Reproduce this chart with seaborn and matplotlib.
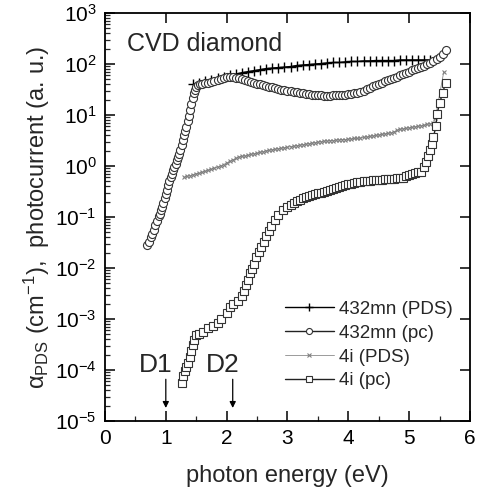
import matplotlib
matplotlib.use("Agg")
import matplotlib.pyplot as plt
import seaborn as sns
import numpy as np
from matplotlib.ticker import LogLocator, MultipleLocator, NullFormatter, LogFormatterSciNotation

# ---------------- data ----------------
pds432_x = [1.45, 1.55, 1.65, 1.75, 1.85, 1.95, 2.05, 2.15, 2.25, 2.35, 2.45, 2.55, 2.65, 2.75,
            2.85, 2.95, 3.05, 3.15, 3.25, 3.35, 3.45, 3.55, 3.65, 3.75, 3.85, 3.95, 4.05, 4.15,
            4.25, 4.35, 4.45, 4.55, 4.65, 4.75, 4.85, 4.95, 5.05, 5.15, 5.25, 5.35]
pds432_y = [39.8, 42.7, 45.7, 49.0, 52.5, 56.2, 60.3, 63.1, 67.6, 70.8, 74.1, 77.6, 81.3, 83.2,
            85.1, 87.1, 89.1, 93.3, 95.5, 97.7, 100, 102, 105, 107, 107, 110, 112, 112,
            115, 115, 117, 117, 117, 117, 120, 120, 120, 120, 120, 120]

pc432_x = [0.69, 0.72, 0.75, 0.78, 0.80, 0.83, 0.86, 0.88, 0.90, 0.92, 0.94, 0.96, 0.98, 1.00,
           1.02, 1.04, 1.06, 1.08, 1.10, 1.12, 1.14, 1.16, 1.18, 1.20, 1.22, 1.24, 1.26, 1.28,
           1.30, 1.32, 1.34, 1.36, 1.38, 1.40, 1.42, 1.44, 1.46, 1.48, 1.50, 1.53, 1.56, 1.60,
           1.65, 1.70, 1.75, 1.80, 1.85, 1.90, 1.95, 2.00, 2.05,
           2.10, 2.15, 2.20, 2.25, 2.30, 2.35, 2.40, 2.45, 2.50, 2.55, 2.60, 2.65, 2.70, 2.75,
           2.80, 2.85, 2.90, 2.95, 3.00, 3.05, 3.10, 3.15, 3.20, 3.25, 3.30, 3.35, 3.40, 3.45,
           3.50, 3.55, 3.60, 3.65, 3.70, 3.75, 3.80, 3.85, 3.90, 3.95, 4.00, 4.05, 4.10, 4.15,
           4.20, 4.25, 4.30, 4.35, 4.40, 4.45, 4.50, 4.55, 4.60, 4.65, 4.70, 4.75, 4.80, 4.85,
           4.90, 4.95, 5.00, 5.05, 5.10, 5.15, 5.20, 5.25, 5.30, 5.35, 5.40, 5.45, 5.50, 5.55, 5.60]
pc432_y = [0.028, 0.033, 0.040, 0.047, 0.056, 0.071, 0.085, 0.105, 0.117, 0.135, 0.158, 0.19, 0.234, 0.28,
           0.34, 0.42, 0.50, 0.60, 0.71, 0.83, 0.95, 1.12, 1.32, 1.51, 1.74, 2.09, 2.63, 3.31,
           3.98, 4.79, 5.89, 7.59, 9.55, 12.6, 16.6, 21.4, 26.9, 31.6, 35.5, 38.9, 39.8, 40.7,
           41.7, 42.7, 44.7, 46.8, 49.0, 51.3, 53.7, 55.0, 56.2,
           55.0, 53.7, 52.5, 50.1, 47.9, 46.8, 44.7, 42.7, 40.7, 39.8, 38.0, 37.2, 35.5, 34.7,
           33.1, 32.4, 31.6, 30.9, 30.2, 29.5, 28.8, 28.2, 27.5, 26.9, 26.3, 25.7, 25.1, 25.1,
           24.5, 24.5, 24.0, 24.0, 24.0, 24.5, 24.5, 25.1, 25.1, 25.1, 25.7, 26.3, 26.9, 27.5,
           28.8, 30.2, 32.4, 33.9, 36.3, 38.0, 40.7, 42.7, 45.7, 47.9, 51.3, 53.7, 56.2, 60.3,
           63.1, 67.6, 70.8, 75.9, 79.4, 85.1, 89.1, 93.3, 100, 105, 112, 123, 138, 158, 186]

pds4i_x = [1.30, 1.35, 1.40, 1.45, 1.50, 1.55, 1.60, 1.65, 1.70, 1.75, 1.80, 1.85, 1.90, 1.95,
           2.00, 2.05, 2.10, 2.15, 2.20, 2.25, 2.30, 2.35, 2.40, 2.45, 2.50, 2.55, 2.60, 2.65,
           2.70, 2.75, 2.80, 2.85, 2.90, 2.95, 3.00, 3.05, 3.10, 3.15, 3.20, 3.25, 3.30, 3.35,
           3.40, 3.45, 3.50, 3.55, 3.60, 3.65, 3.70, 3.75, 3.80, 3.85, 3.90, 3.95, 4.00, 4.05,
           4.10, 4.15, 4.20, 4.25, 4.30, 4.35, 4.40, 4.45, 4.50, 4.55, 4.60, 4.65, 4.70, 4.75,
           4.80, 4.85, 4.90, 4.95, 5.00, 5.05, 5.10, 5.15, 5.20, 5.25, 5.30, 5.35, 5.40, 5.43, 5.57]
pds4i_y = [0.60, 0.63, 0.65, 0.68, 0.71, 0.72, 0.76, 0.79, 0.83, 0.87, 0.91, 0.95, 1.00, 1.07,
           1.15, 1.23, 1.32, 1.41, 1.51, 1.55, 1.58, 1.62, 1.70, 1.74, 1.78, 1.86, 1.91, 2.00,
           2.04, 2.09, 2.14, 2.19, 2.24, 2.29, 2.34, 2.40, 2.45, 2.51, 2.57, 2.63, 2.69, 2.75,
           2.82, 2.88, 2.95, 3.02, 3.09, 3.09, 3.16, 3.16, 3.24, 3.24, 3.31, 3.31, 3.39, 3.39,
           3.47, 3.47, 3.55, 3.63, 3.72, 3.80, 3.89, 3.98, 4.07, 4.17, 4.27, 4.37, 4.47, 4.68,
           5.01, 5.25, 5.37, 5.50, 5.62, 5.75, 5.89, 6.03, 6.17, 6.31, 6.61, 6.76, 7.08, 8.7, 71]

pc4i_x = [1.26, 1.28, 1.31, 1.34, 1.37, 1.39, 1.42, 1.45, 1.46, 1.49, 1.55, 1.61, 1.69, 1.78,
          1.86, 1.91, 2.00, 2.05, 2.10, 2.19, 2.26, 2.28, 2.32, 2.35, 2.38, 2.42, 2.45, 2.49,
          2.53, 2.57, 2.61, 2.65, 2.69, 2.73, 2.79, 2.84, 2.92, 3.00, 3.05, 3.10, 3.15, 3.20,
          3.25, 3.30, 3.35, 3.40, 3.45, 3.50, 3.55, 3.60, 3.65, 3.70, 3.75, 3.80, 3.85, 3.90,
          3.95, 4.00, 4.05, 4.10, 4.15, 4.20, 4.25, 4.30, 4.35, 4.40, 4.45, 4.50, 4.55, 4.60,
          4.65, 4.70, 4.75, 4.80, 4.85, 4.90, 4.95, 5.00, 5.05, 5.10, 5.15, 5.19, 5.25, 5.28,
          5.31, 5.34, 5.37, 5.40, 5.44, 5.46, 5.50, 5.55, 5.60]
pc4i_y = [5.6e-5, 7.6e-5, 9.5e-5, 1.15e-4, 1.41e-4, 1.82e-4, 2.4e-4, 3.1e-4, 3.9e-4, 4.9e-4, 5.2e-4,
          5.6e-4, 6.6e-4, 7.2e-4, 8.3e-4, 1.02e-3, 1.29e-3, 1.74e-3, 2.0e-3, 2.3e-3, 2.8e-3, 3.5e-3,
          4.7e-3, 5.8e-3, 7.9e-3, 9.8e-3, 0.0123, 0.0162, 0.0209, 0.0263, 0.0331, 0.0427, 0.0537,
          0.0676, 0.087, 0.110, 0.138, 0.158, 0.174, 0.19, 0.204, 0.219, 0.234, 0.245, 0.257, 0.269,
          0.282, 0.295, 0.302, 0.316, 0.331, 0.339, 0.355, 0.372, 0.389, 0.407, 0.427, 0.437, 0.447,
          0.468, 0.479, 0.490, 0.501, 0.513, 0.513, 0.525, 0.525, 0.537, 0.537, 0.550, 0.550, 0.562,
          0.562, 0.575, 0.575, 0.589, 0.631, 0.676, 0.708, 0.741, 0.759, 0.776, 0.977, 1.20, 1.58,
          2.04, 2.69, 3.72, 6.03, 10.5, 17.0, 26.9, 42.7]

labels = ["432mn (PDS)", "432mn (pc)", "4i (PDS)", "4i (pc)"]
title_text = "CVD diamond"
x_label = "photon energy (eV)"
y_label = r"α$_{\mathrm{PDS}}$ (cm$^{\mathrm{-1}}$),  photocurrent (a. u.)"
markers_d = [("D1", 1.0), ("D2", 2.1)]

# ---------------- style ----------------
sns.set_style("ticks")
plt.rcParams["font.family"] = ["Liberation Sans", "DejaVu Sans"]
plt.rcParams["mathtext.fontset"] = "custom"
plt.rcParams["mathtext.rm"] = "Liberation Sans"
plt.rcParams["mathtext.it"] = "Liberation Sans:italic"
plt.rcParams["mathtext.sf"] = "Liberation Sans"

fig = plt.figure(figsize=(4.86, 4.99), dpi=100)
ax = fig.add_axes([0.216, 0.156, 0.751, 0.818])

series = [
    (pds432_x, pds432_y, dict(marker="+", markersize=7, markeredgewidth=1.0, color="black",
                              markeredgecolor="black", linewidth=1.0)),
    (pc432_x, pc432_y, dict(marker="o", markersize=5.8, markeredgewidth=0.8, color="#222222",
                            markerfacecolor="white", markeredgecolor="#333333", linewidth=1.0)),
    (pds4i_x, pds4i_y, dict(marker="x", markersize=3.5, markeredgewidth=0.8, color="#8a8a8a",
                            markeredgecolor="#808080", linewidth=0.6)),
    (pc4i_x, pc4i_y, dict(marker="s", markersize=5.5, markeredgewidth=0.8, color="#222222",
                          markerfacecolor="white", markeredgecolor="#333333", linewidth=1.0)),
]
for (xs, ys, kw), lab in zip(series, labels):
    sns.lineplot(x=xs, y=ys, ax=ax, sort=False, estimator=None, label=lab, **kw)

ax.set_yscale("log")
ax.set_xlim(0, 6)
ax.set_ylim(1e-5, 1e3)

# ticks
ax.xaxis.set_major_locator(MultipleLocator(1))
ax.xaxis.set_minor_locator(MultipleLocator(0.5))
ax.yaxis.set_major_locator(LogLocator(base=10, numticks=20))
ax.yaxis.set_minor_locator(LogLocator(base=10, subs=np.arange(2, 10), numticks=20))
ax.yaxis.set_minor_formatter(NullFormatter())
ax.yaxis.set_major_formatter(LogFormatterSciNotation())
ax.tick_params(axis="both", which="major", direction="in", length=7, width=1.1,
               labelsize=15, pad=6, colors="black")
ax.tick_params(axis="both", which="minor", direction="in", length=3.5, width=0.9)
ax.tick_params(axis="x", which="both", top=True)
ax.tick_params(axis="x", which="minor", top=False)
ax.tick_params(axis="y", which="major", right=True)
ax.tick_params(axis="y", which="minor", right=False)
for s in ax.spines.values():
    s.set_linewidth(1.3)
    s.set_color("black")

ax.set_xlabel(x_label, fontsize=17, labelpad=12)
ax.set_ylabel(y_label, fontsize=17, labelpad=2)

ax.text(0.36, 180, title_text, fontsize=18, ha="left", va="baseline")

for lab, xv in markers_d:
    ax.annotate("", xy=(xv, 1.6e-5), xytext=(xv, 7.5e-5),
                arrowprops=dict(arrowstyle="-|>", color="black", lw=0.9, mutation_scale=9))
    ax.text(xv - 0.17, 9.0e-5, lab, fontsize=19, ha="center", va="baseline")

leg = ax.legend(loc="lower right", bbox_to_anchor=(0.985, 0.05), frameon=False, fontsize=13.5,
                handlelength=2.6, handletextpad=0.3, labelspacing=0.36, markerscale=0.75,
                borderaxespad=0.2)

fig.savefig("out.png", dpi=100)
